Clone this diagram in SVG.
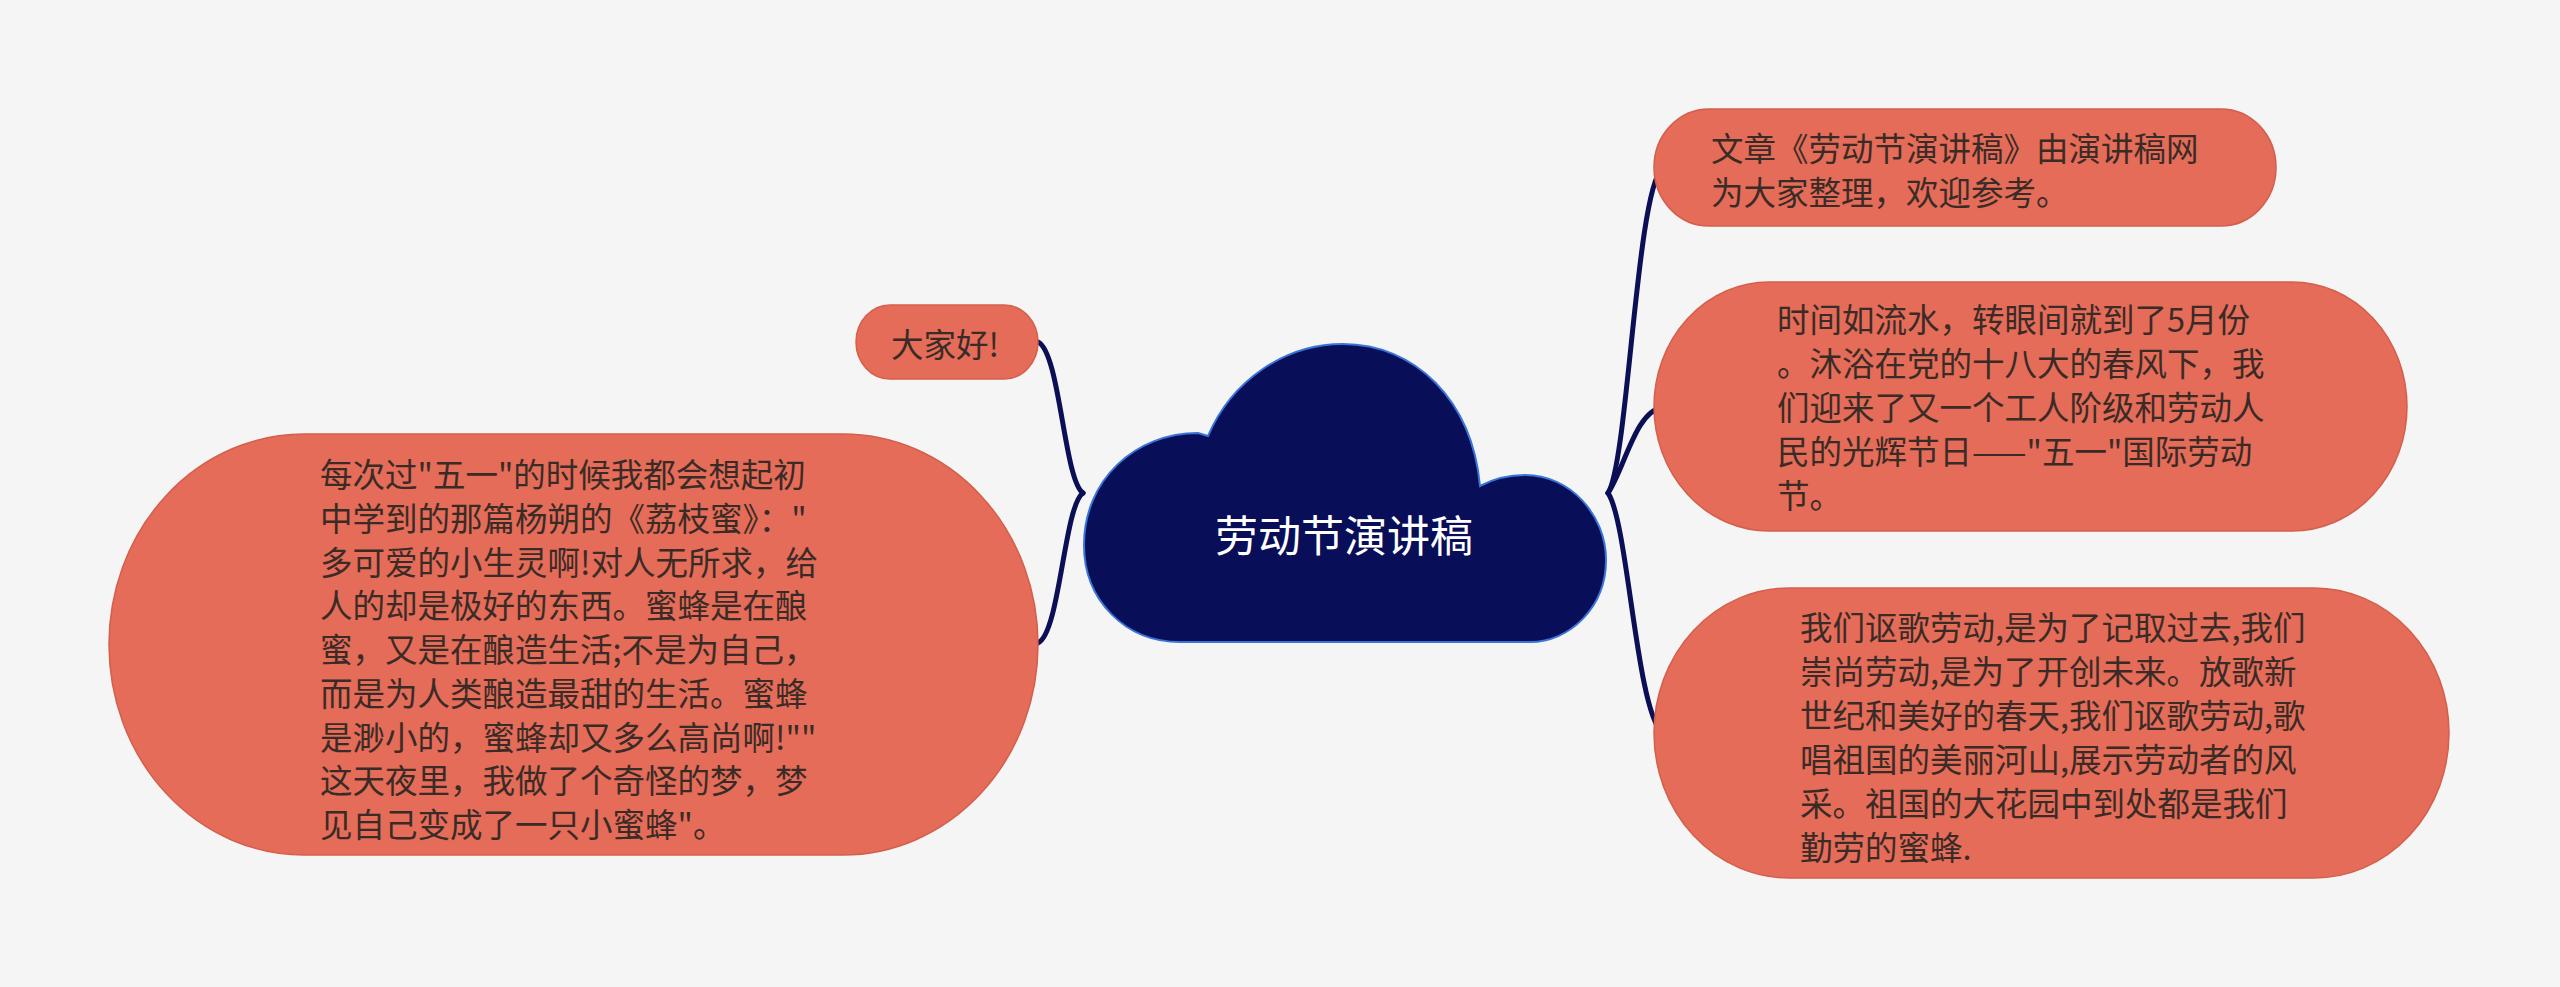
<svg xmlns="http://www.w3.org/2000/svg" width="2560" height="987" viewBox="0 0 2560 987">
<style>
.bg{fill:#f5f5f5}
.node{fill:#e46c58;stroke:#d35f4c;stroke-width:1.5}
.t{font-family:"Noto Sans CJK SC","Noto Sans",sans-serif;font-size:32.5px;fill:#3a2b27;dominant-baseline:central}
.ct{font-family:"Noto Sans CJK SC","Noto Sans",sans-serif;font-size:43px;fill:#ffffff;dominant-baseline:central;text-anchor:middle}
.edge{fill:none;stroke:#0b0f55;stroke-width:5;stroke-linecap:round}
</style>
<rect class="bg" x="0" y="0" width="2560" height="987"/>
<g id="connectors">
<path class="edge" d="M1608 493 C1628 462 1636 195 1662 168"/>
<path class="edge" d="M1608 493 C1624 470 1636 410 1662 408"/>
<path class="edge" d="M1608 493 C1628 522 1636 708 1662 733"/>
<path class="edge" d="M1083 493 C1064 480 1060 352 1038 342"/>
<path class="edge" d="M1083 493 C1064 506 1060 633 1038 643"/>
</g>
<g id="center">
<path d="M1180 642 C1125 642 1084 600 1084 545 C1084 480 1135 433 1198 433 L1208 436 C1232 380 1285 344 1343 344 C1415 344 1472 400 1480 486 C1495 478 1510 475 1525 475 C1570 475 1606 515 1606 560 C1606 607 1570 642 1530 642 Z" fill="#080e58" stroke="#3b74d6" stroke-width="2"/>
<text class="ct" x="1344" y="533">劳动节演讲稿</text>
</g>
<g id="n1">
<rect class="node" x="1654" y="109" width="622" height="117" rx="55" ry="58.5"/>
<text class="t" x="1711"><tspan x="1711" y="146">文章《劳动节演讲稿》由演讲稿网</tspan><tspan x="1711" y="190">为大家整理，欢迎参考。</tspan></text>
</g>
<g id="n2">
<rect class="node" x="1654" y="282" width="753" height="249" rx="115" ry="124.5"/>
<text class="t"><tspan x="1777" y="317">时间如流水，转眼间就到了5月份</tspan><tspan x="1777" y="361">。沐浴在党的十八大的春风下，我</tspan><tspan x="1777" y="405">们迎来了又一个工人阶级和劳动人</tspan><tspan x="1777" y="449">民的光辉节日——"五一"国际劳动</tspan><tspan x="1777" y="493">节。</tspan></text>
</g>
<g id="n3">
<rect class="node" x="1654" y="588" width="795" height="290" rx="135" ry="145"/>
<text class="t"><tspan x="1800" y="625">我们讴歌劳动,是为了记取过去,我们</tspan><tspan x="1800" y="669">崇尚劳动,是为了开创未来。放歌新</tspan><tspan x="1800" y="713">世纪和美好的春天,我们讴歌劳动,歌</tspan><tspan x="1800" y="757">唱祖国的美丽河山,展示劳动者的风</tspan><tspan x="1800" y="801">采。祖国的大花园中到处都是我们</tspan><tspan x="1800" y="845">勤劳的蜜蜂.</tspan></text>
</g>
<g id="n4">
<rect class="node" x="856" y="305" width="182" height="74" rx="34" ry="37"/>
<text class="t" x="891" y="342">大家好!</text>
</g>
<g id="n5">
<rect class="node" x="109" y="434" width="929" height="421" rx="195" ry="210.5"/>
<text class="t"><tspan x="320" y="472">每次过"五一"的时候我都会想起初</tspan><tspan x="320" y="516">中学到的那篇杨朔的《荔枝蜜》："</tspan><tspan x="320" y="560">多可爱的小生灵啊!对人无所求，给</tspan><tspan x="320" y="603">人的却是极好的东西。蜜蜂是在酿</tspan><tspan x="320" y="647">蜜，又是在酿造生活;不是为自己，</tspan><tspan x="320" y="691">而是为人类酿造最甜的生活。蜜蜂</tspan><tspan x="320" y="735">是渺小的，蜜蜂却又多么高尚啊!""</tspan><tspan x="320" y="778">这天夜里，我做了个奇怪的梦，梦</tspan><tspan x="320" y="822">见自己变成了一只小蜜蜂"。</tspan></text>
</g>
</svg>
